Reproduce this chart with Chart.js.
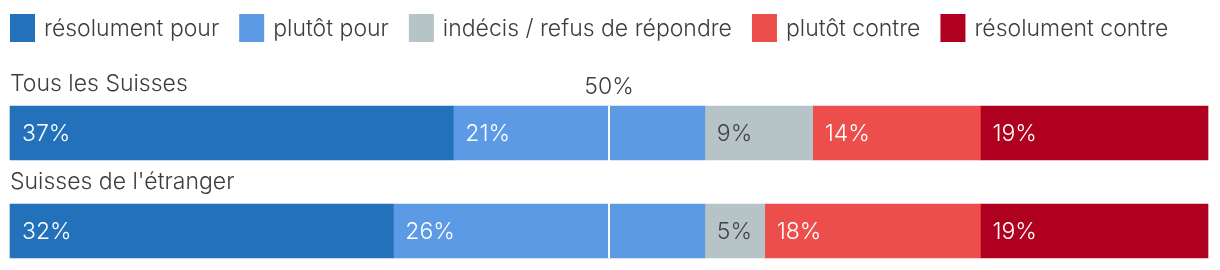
<!DOCTYPE html>
<html>
<head>
<meta charset="utf-8">
<script src="https://cdn.jsdelivr.net/npm/chart.js@4"></script>
<style>
  html, body { margin: 0; padding: 0; background: #fff; }
  #wrap { width: 1220px; height: 270px; }
</style>
</head>
<body>
<div id="wrap"><canvas id="surveyChart" width="1220" height="270"></canvas></div>
<script>
// Data
const categories = ["Tous les Suisses", "Suisses de l'étranger"];
const seriesNames = ["résolument pour", "plutôt pour", "indécis / refus de répondre", "plutôt contre", "résolument contre"];
const resolumentPour = [37, 32];
const plutotPour = [21, 26];
const indecis = [9, 5];
const plutotContre = [14, 18];
const resolumentContre = [19, 19];
const midMark = 50;
const midLabel = "50%";

const colors = ["#2271ba", "#5c9ae6", "#b6c4c7", "#ec4e4b", "#b0001f"];
const labelColors = ["#ffffff", "#ffffff", "#444444", "#ffffff", "#ffffff"];
const fontFamily = "Inter, Roboto, sans-serif";
const textColor = "#3d3d3d";

const allSeries = [resolumentPour, plutotPour, indecis, plutotContre, resolumentContre];

// Legend drawn on canvas, squares then text
const legendPlugin = {
    id: 'squareLegend',
    afterDraw(chart) {
        const ctx = chart.ctx;
        ctx.save();
        ctx.font = "300 23px " + fontFamily;
        ctx.textBaseline = "middle";
        let x = 10;
        seriesNames.forEach((name, i) => {
            ctx.fillStyle = colors[i];
            ctx.fillRect(x, 14, 25, 28);
            ctx.fillStyle = textColor;
            ctx.fillText(name, x + 34, 29);
            x += 34 + ctx.measureText(name).width + 20;
        });
        ctx.restore();
    }
};

// Row titles, value labels and 50% marker
const annotatePlugin = {
    id: 'annotate',
    afterDatasetsDraw(chart) {
        const ctx = chart.ctx;
        const xScale = chart.scales.x;
        const yScale = chart.scales.y;
        ctx.save();
        ctx.font = "300 23px " + fontFamily;
        ctx.textBaseline = "middle";

        // value labels
        chart.data.datasets.forEach((ds, i) => {
            const meta = chart.getDatasetMeta(i);
            meta.data.forEach((bar, j) => {
                const left = Math.min(bar.x, bar.base);
                ctx.fillStyle = labelColors[i];
                ctx.fillText(ds.data[j] + "%", left + 12, bar.y + 1);
            });
        });

        // row titles
        ctx.fillStyle = textColor;
        categories.forEach((c, j) => {
            const y = yScale.getPixelForValue(j);
            ctx.fillText(c, 10, y - 49);
        });

        // 50% marker
        const mx = xScale.getPixelForValue(midMark);
        const top = yScale.getPixelForValue(0) - 27;
        const bottom = yScale.getPixelForValue(categories.length - 1) + 27;
        ctx.fillStyle = "#ffffff";
        ctx.fillRect(mx - 1, top, 2, bottom - top);
        ctx.fillStyle = textColor;
        ctx.textAlign = "center";
        ctx.fillText(midLabel, mx, 87);
        ctx.restore();
    }
};

const ctx = document.getElementById('surveyChart').getContext('2d');
const surveyChart = new Chart(ctx, {
    type: 'bar',
    data: {
        labels: categories,
        datasets: allSeries.map((values, i) => ({
            label: seriesNames[i],
            data: values,
            backgroundColor: colors[i],
            borderWidth: 0,
            barThickness: 54,
            clip: false
        }))
    },
    options: {
        indexAxis: 'y',
        responsive: false,
        animation: false,
        layout: {
            padding: { top: 133, bottom: 39, left: 10, right: 12 }
        },
        scales: {
            x: { stacked: true, min: 0, max: 100, display: false },
            y: { stacked: true, offset: false, display: false }
        },
        plugins: {
            legend: { display: false },
            tooltip: { enabled: false }
        }
    },
    plugins: [legendPlugin, annotatePlugin]
});
</script>
</body>
</html>
